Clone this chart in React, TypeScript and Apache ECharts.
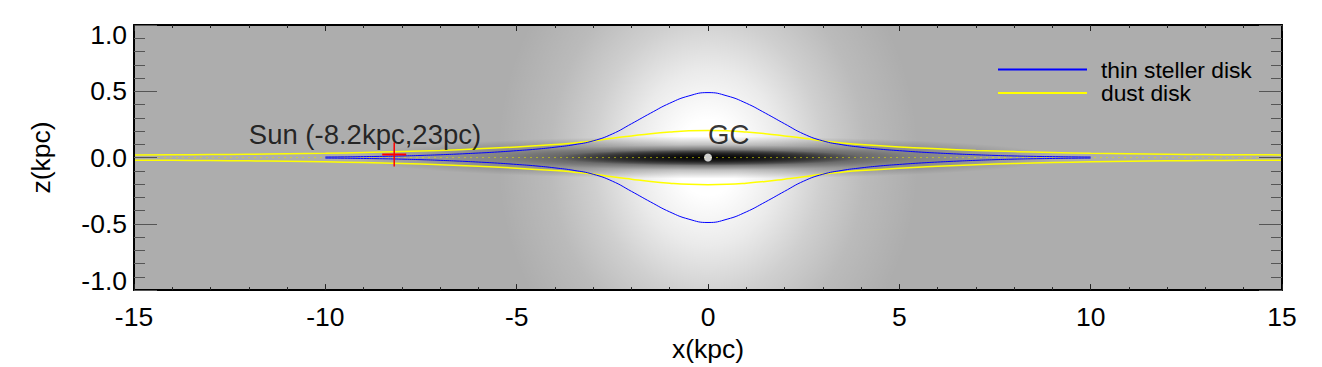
import React, { useEffect, useRef } from 'react';
import * as echarts from 'echarts';

// ---- axis ticks ----
const xTickValues = [-15, -10, -5, 0, 5, 10, 15];
const yTickValues = [-1.0, -0.5, 0.0, 0.5, 1.0];

// ---- thin stellar disk: half thickness (kpc) vs x (kpc) ----
const stellarX = [-10, -9.5, -9, -8.5, -8, -7.5, -7, -6.5, -6, -5.5, -5, -4.5, -4, -3.5, -3, -2.5, -2, -1.5, -1, -0.5, 0,
  0.5, 1, 1.5, 2, 2.5, 3, 3.5, 4, 4.5, 5, 5.5, 6, 6.5, 7, 7.5, 8, 8.5, 9, 9.5, 10];
const stellarHalf = [0.004, 0.005, 0.007, 0.009, 0.012, 0.016, 0.021, 0.027, 0.034, 0.042, 0.052, 0.063, 0.078, 0.097, 0.126, 0.178, 0.255, 0.335, 0.41, 0.465, 0.49,
  0.465, 0.41, 0.335, 0.255, 0.178, 0.126, 0.097, 0.078, 0.063, 0.052, 0.042, 0.034, 0.027, 0.021, 0.016, 0.012, 0.009, 0.007, 0.005, 0.004];

// ---- dust disk: half thickness (kpc) vs x (kpc) ----
const dustX = [-15, -14, -13, -12, -11, -10, -9, -8, -7, -6, -5, -4, -3.5, -3, -2.5, -2, -1.5, -1, -0.5, 0,
  0.5, 1, 1.5, 2, 2.5, 3, 3.5, 4, 5, 6, 7, 8, 9, 10, 11, 12, 13, 14, 15];
const dustHalf = [0.02, 0.021, 0.023, 0.025, 0.028, 0.032, 0.038, 0.045, 0.054, 0.066, 0.08, 0.098, 0.11, 0.125, 0.145, 0.163, 0.18, 0.193, 0.202, 0.205,
  0.202, 0.193, 0.18, 0.163, 0.145, 0.125, 0.11, 0.098, 0.08, 0.066, 0.054, 0.045, 0.038, 0.032, 0.028, 0.025, 0.023, 0.021, 0.02];

// ---- dust midplane ----
const midplaneX = [-15, 15];
const midplaneZ = [0, 0];

// ---- markers & annotations ----
const sunPos = [-8.2, 0.023];
const gcPos = [0, 0];
const annotationNames = ['Sun (-8.2kpc,23pc)', 'GC'];
const annotationPos = [[-12, 0.1], [0, 0.1]];

const FONT = '"Liberation Sans", Arial, Helvetica, sans-serif';

function ellipseGlow(rx: number, ry: number, stops: [number, string][]) {
  return (params: any, api: any) => {
    const c = api.coord([api.value(0), api.value(1)]);
    const s = api.size([rx, ry]);
    return {
      type: 'rect',
      shape: { x: c[0] - s[0], y: c[1] - s[1], width: 2 * s[0], height: 2 * s[1] },
      style: {
        fill: new echarts.graphic.RadialGradient(0.5, 0.5, 0.5,
          stops.map(([offset, color]) => ({ offset, color }))),
      },
      silent: true,
    };
  };
}

export default function App() {
  const ref = useRef<HTMLDivElement>(null);
  useEffect(() => {
    if (!ref.current) return;
    const chart = echarts.init(ref.current, undefined, { renderer: 'svg' });
    const xMin = xTickValues[0];
    const xMax = xTickValues[xTickValues.length - 1];
    const yMin = yTickValues[0];
    const yMax = yTickValues[yTickValues.length - 1];

    const axisCommonX = {
      type: 'value', min: xMin, max: xMax, interval: 5, z: 10,
      axisLine: { show: true, onZero: false, lineStyle: { color: '#000', width: 2 } },
      axisTick: { show: true, inside: true, length: 6, lineStyle: { color: '#222', width: 1 } },
      minorTick: { show: true, splitNumber: 5, length: 3, lineStyle: { color: '#222', width: 1 } },
      splitLine: { show: false },
    };
    const axisCommonY = {
      type: 'value', min: yMin, max: yMax, interval: 0.5, z: 10,
      axisLine: { show: true, onZero: false, lineStyle: { color: '#000', width: 2 } },
      axisTick: { show: true, inside: true, length: 23, lineStyle: { color: '#555', width: 1 } },
      minorTick: { show: true, splitNumber: 5, length: 11, lineStyle: { color: '#555', width: 1 } },
      splitLine: { show: false },
    };

    const lineCommon = { symbol: 'none', smooth: 0.5, silent: true };

    chart.setOption({
      animation: false,
      backgroundColor: '#ffffff',
      grid: { left: 134, right: 40, top: 25, bottom: 72, show: true, backgroundColor: '#adadad', borderWidth: 0 },
      legend: {
        orient: 'vertical', left: 998, top: 58, padding: 0,
        itemWidth: 89, itemHeight: 2, itemGap: 0.5, icon: 'rect', selectedMode: false,
        data: ['thin steller disk', 'dust disk'],
        textStyle: { fontSize: 22.8, lineHeight: 22.5, color: '#000', fontFamily: FONT, padding: [0, 0, 0, 9] },
      },
      xAxis: [
        {
          ...axisCommonX, position: 'bottom',
          name: 'x(kpc)', nameLocation: 'middle', nameGap: 43,
          nameTextStyle: { fontSize: 26.5, color: '#000', fontFamily: FONT },
          axisLabel: { show: true, margin: 13, fontSize: 26.5, color: '#000', fontFamily: FONT, formatter: (v: number) => String(v) },
        },
        { ...axisCommonX, position: 'top', axisLabel: { show: false } },
      ],
      yAxis: [
        {
          ...axisCommonY, position: 'left',
          name: 'z(kpc)', nameLocation: 'middle', nameGap: 80,
          nameTextStyle: { fontSize: 26.5, color: '#000', fontFamily: FONT },
          axisLabel: {
            show: true, margin: 7, fontSize: 26.5, lineHeight: 19, color: '#000', fontFamily: FONT,
            verticalAlignMaxLabel: 'top', verticalAlignMinLabel: 'bottom',
            formatter: (v: number) => v.toFixed(1),
          },
        },
        { ...axisCommonY, position: 'right', axisLabel: { show: false } },
      ],
      series: [
        {
          type: 'custom', name: 'glow', clip: true, silent: true, z: 1,
          data: [[gcPos[0], gcPos[1]]],
          renderItem: ellipseGlow(5.5, 1.9, [
            [0, 'rgba(255,255,255,1)'], [0.15, 'rgba(255,255,255,1)'], [0.35, 'rgba(255,255,255,0.75)'],
            [0.55, 'rgba(255,255,255,0.42)'], [0.75, 'rgba(255,255,255,0.17)'], [1, 'rgba(255,255,255,0)'],
          ]),
        },
        {
          type: 'custom', name: 'bandOuter', clip: true, silent: true, z: 1,
          data: [[gcPos[0], gcPos[1]]],
          renderItem: ellipseGlow(9.2, 0.16, [
            [0, 'rgba(0,0,0,0.85)'], [0.3, 'rgba(0,0,0,0.62)'], [0.6, 'rgba(0,0,0,0.25)'], [1, 'rgba(0,0,0,0)'],
          ]),
        },
        {
          type: 'custom', name: 'bandCore', clip: true, silent: true, z: 1,
          data: [[gcPos[0], gcPos[1]]],
          renderItem: ellipseGlow(4, 0.06, [
            [0, 'rgba(0,0,0,0.95)'], [0.5, 'rgba(0,0,0,0.55)'], [1, 'rgba(0,0,0,0)'],
          ]),
        },
        {
          type: 'line', name: 'midplane', data: midplaneX.map((x, i) => [x, midplaneZ[i]]),
          symbol: 'none', silent: true, z: 3,
          lineStyle: { color: 'rgba(225,225,0,0.6)', width: 1, type: [2, 4] },
        },
        {
          ...lineCommon, type: 'line', name: 'dust disk', data: dustX.map((x, i) => [x, dustHalf[i]]),
          z: 4, color: '#ffff00', itemStyle: { color: '#ffff00' }, lineStyle: { color: '#ffff00', width: 1.5 },
        },
        {
          ...lineCommon, type: 'line', name: 'dust disk', data: dustX.map((x, i) => [x, -dustHalf[i]]),
          z: 4, color: '#ffff00', itemStyle: { color: '#ffff00' }, lineStyle: { color: '#ffff00', width: 1.5 },
        },
        {
          ...lineCommon, type: 'line', name: 'thin steller disk', data: stellarX.map((x, i) => [x, stellarHalf[i]]),
          z: 5, color: '#0000ff', itemStyle: { color: '#0000ff' }, lineStyle: { color: '#0000ff', width: 1 },
        },
        {
          ...lineCommon, type: 'line', name: 'thin steller disk', data: stellarX.map((x, i) => [x, -stellarHalf[i]]),
          z: 5, color: '#0000ff', itemStyle: { color: '#0000ff' }, lineStyle: { color: '#0000ff', width: 1 },
        },
        {
          type: 'custom', name: 'sun', silent: true, z: 6,
          data: [[sunPos[0], sunPos[1]]],
          renderItem: (params: any, api: any) => {
            const c = api.coord([api.value(0), api.value(1)]);
            return {
              type: 'group',
              children: [
                { type: 'line', shape: { x1: c[0] - 12, y1: c[1], x2: c[0] + 12, y2: c[1] }, style: { stroke: '#ff0000', lineWidth: 2 } },
                { type: 'line', shape: { x1: c[0], y1: c[1] - 12, x2: c[0], y2: c[1] + 12 }, style: { stroke: '#ff0000', lineWidth: 1.5 } },
              ],
            };
          },
        },
        {
          type: 'scatter', name: 'gc', silent: true, z: 6,
          data: [[gcPos[0], gcPos[1]]], symbol: 'circle', symbolSize: 8,
          itemStyle: { color: '#ffffff' },
        },
        {
          type: 'scatter', name: 'labels', silent: true, z: 7,
          data: annotationNames.map((n, i) => ({ name: n, value: annotationPos[i] })),
          symbolSize: 1, itemStyle: { color: 'transparent' },
          label: {
            show: true, formatter: '{b}', position: 'inside', align: 'left', verticalAlign: 'middle',
            offset: [0, -9.5], fontSize: 27.5, color: '#000', fontFamily: FONT,
          },
        },
      ],
    });
    return () => chart.dispose();
  }, []);
  return <div ref={ref} style={{ position: 'absolute', left: 0, top: 0, width: 1322, height: 367 }} />;
}
